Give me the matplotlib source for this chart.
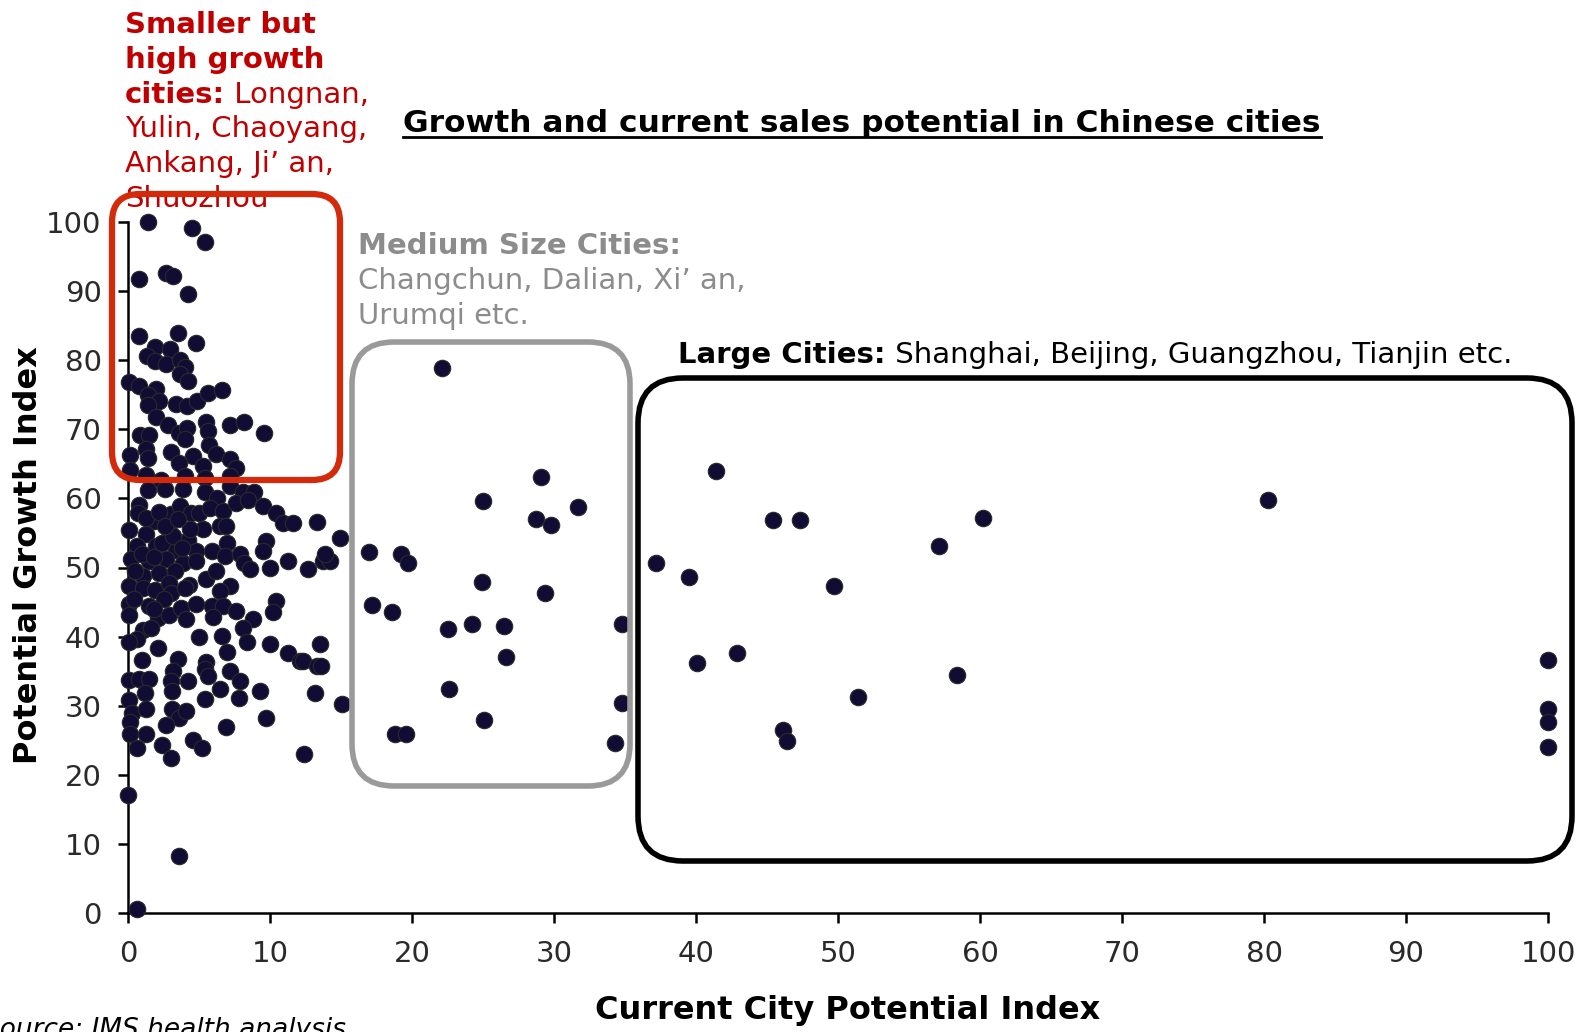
import numpy as np
import matplotlib.pyplot as plt
from matplotlib.patches import FancyBboxPatch

# Current City Potential Index (x) / Potential Growth Index (y)
city_potential = [
    1.4, 4.5, 5.4, 0.75, 2.65, 3.2, 4.2, 0.75, 3.5, 4.8, 1.9, 2.98, 1.34, 1.9, 2.65, 3.64, 4.0, 3.64, 4.2,
    0.07, 0.8, 1.95, 1.4, 2.2, 3.4, 4.15, 4.86, 5.6, 6.6, 1.4, 2.0, 2.8, 3.57, 4.15, 5.5, 5.6, 7.2, 8.2, 9.6,
    0.87, 1.5, 1.3, 3.0, 4.0, 4.6, 5.7, 6.2, 7.2, 7.6, 0.16, 0.16, 1.4, 3.57, 5.3, 1.3, 2.35, 4.0, 5.4, 7.2,
    1.4, 2.6, 3.9, 5.4, 6.3, 7.2, 8.1, 8.85, 0.8, 0.7, 1.8, 3.05, 3.64, 4.46, 5.0, 5.75, 6.7, 7.6, 8.45, 9.5,
    10.4, 10.9, 11.6, 13.3, 14.9, 0.07, 1.3, 2.9, 4.2, 5.3, 6.45, 6.9, 7.0, 9.7, 0.6, 2.0, 3.4, 4.8, 5.9, 6.8,
    7.9, 9.5, 0.2, 1.5, 2.7, 3.9, 4.8, 8.2, 8.6, 10.0, 11.3, 12.7, 13.7, 14.2, 13.85, 1.06, 2.2, 3.3, 4.3,
    5.5, 6.2, 7.2, 6.5, 0.1, 1.06, 1.9, 2.9, 3.0, 0.1, 0.1, 1.5, 2.1, 2.9, 3.75, 4.1, 4.8, 5.9, 6.7, 7.6,
    6.0, 8.8, 8.1, 10.4, 10.2, 1.06, 1.6, 0.6, 0.1, 2.1, 5.0, 6.6, 8.4, 10.0, 11.3, 12.1, 12.3, 13.5, 13.3,
    13.6, 13.2, 15.1, 1.0, 3.5, 3.2, 3.05, 3.1, 4.2, 5.5, 5.4, 5.6, 7.0, 7.2, 7.9, 6.5, 7.8, 9.3, 5.4,
    0.1, 0.8, 1.5, 0.1, 1.2, 0.3, 1.3, 3.1, 3.6, 4.06, 2.7, 0.16, 0.16, 1.3, 0.6, 2.4, 3.0, 4.6, 5.2, 6.9,
    9.7, 12.4, 0.0, 3.6, 0.66,
    1.0, 1.8, 2.4, 3.2, 3.8, 4.4, 1.3, 2.2, 2.6, 3.5, 4.0, 2.5, 1.8, 0.5, 0.4,
    22.1, 29.1, 25.0, 31.7, 28.7, 29.8, 17.0, 19.2, 19.7, 24.9, 29.4, 17.2, 18.6, 22.5, 24.2, 26.5, 34.8,
    26.6, 22.6, 34.8, 25.1, 18.8, 19.6, 34.3,
    41.4, 45.4, 47.3, 57.1, 60.2, 80.3, 37.2, 39.5, 49.7, 40.1, 42.9, 51.4, 58.4, 46.1, 46.4,
    100, 100, 100, 100,
]
growth_index = [
    100, 99.1, 97.0, 91.7, 92.6, 92.1, 89.6, 83.4, 83.9, 82.4, 81.9, 81.6, 80.6, 79.8, 79.4, 80.0, 79.0, 78.0, 77.0,
    76.8, 76.3, 75.8, 75.0, 74.0, 73.7, 73.3, 74.0, 75.2, 75.7, 73.5, 71.8, 70.6, 69.4, 70.1, 71.0, 69.7, 70.6, 71.1, 69.4,
    69.2, 69.2, 67.2, 66.7, 68.6, 66.1, 67.7, 66.4, 65.7, 64.4, 66.3, 64.1, 65.8, 65.1, 64.6, 63.4, 62.7, 63.2, 62.9, 63.2,
    61.2, 61.4, 61.3, 60.9, 60.1, 61.8, 60.9, 60.9, 59.1, 57.9, 56.7, 57.7, 58.9, 57.9, 57.9, 58.6, 58.1, 59.3, 59.7, 58.9,
    57.9, 56.5, 56.5, 56.6, 54.3, 55.4, 54.8, 55.3, 54.0, 55.5, 56.0, 56.0, 53.6, 53.8, 53.1, 53.1, 52.6, 52.4, 52.4, 51.6,
    52.0, 52.4, 51.2, 50.9, 51.2, 50.7, 50.9, 50.7, 49.8, 49.9, 50.9, 49.8, 50.9, 50.9, 51.9, 48.7, 49.2, 49.5, 47.5,
    48.3, 49.5, 47.3, 46.6, 47.3, 47.1, 46.8, 47.8, 46.3, 44.7, 43.2, 44.4, 42.7, 43.2, 44.2, 42.5, 44.7, 44.4, 44.4, 43.7,
    42.9, 42.6, 41.3, 45.1, 43.5, 41.0, 41.3, 39.6, 39.2, 38.4, 40.0, 40.1, 39.3, 39.0, 37.7, 36.5, 36.5, 39.0, 35.7,
    35.7, 31.9, 30.2, 36.7, 36.8, 35.0, 33.6, 32.1, 33.6, 36.3, 35.3, 34.3, 37.8, 35.0, 33.6, 32.5, 31.2, 32.1, 31.0,
    33.8, 33.9, 33.9, 30.9, 31.9, 29.0, 29.5, 29.6, 28.3, 29.2, 27.2, 27.6, 25.9, 26.0, 23.9, 24.3, 22.5, 25.0, 23.9, 26.9,
    28.2, 23.0, 17.1, 8.3, 0.7,
    52.0, 51.5, 53.5, 54.5, 52.8, 55.5, 57.2, 58.0, 56.0, 57.0, 47.0, 45.5, 44.0, 49.5, 45.5,
    78.9, 63.1, 59.6, 58.8, 57.0, 56.2, 52.2, 52.0, 50.7, 47.9, 46.3, 44.6, 43.6, 41.1, 41.8, 41.6, 41.9,
    37.0, 32.5, 30.4, 28.0, 26.0, 26.0, 24.7,
    64.0, 56.8, 56.9, 53.1, 57.2, 59.8, 50.7, 48.6, 47.3, 36.2, 37.7, 31.3, 34.4, 26.5, 24.9,
    36.7, 29.5, 27.7, 24.0,
]
ticks = list(range(0, 101, 10))

W, H = 1579, 1032
fig = plt.figure(figsize=(W / 100, H / 100), dpi=100)
inch = fig.dpi_scale_trans
FONT = "DejaVu Sans"

def P(x, y):
    # pixel position (from top-left) -> inches from bottom-left
    return x / 100, (H - y) / 100

ax = fig.add_axes([128 / W, (H - 913.4) / H, 1420 / W, 691.8 / H])
ax.scatter(city_potential, growth_index, s=140, c="#100c33", edgecolors="#2a2a2a",
           linewidths=0.8, zorder=3, clip_on=False)
ax.set_xlim(0, 100)
ax.set_ylim(0, 100)
ax.set_xticks(ticks)
ax.set_yticks(ticks)
for s in ["top", "right"]:
    ax.spines[s].set_visible(False)
for s in ["left", "bottom"]:
    ax.spines[s].set_linewidth(1.8)
ax.tick_params(direction="out", length=7, width=1.8, labelsize=21, pad=12, labelcolor="#2a2a2a")
for lab in ax.get_xticklabels() + ax.get_yticklabels():
    lab.set_family(FONT)

# axis labels
fig.text(*P(29, 555), "Potential Growth Index", rotation=90, ha="center", va="center",
         fontsize=23, fontweight="bold", family=FONT, transform=inch)
fig.text(*P(848, 1010), "Current City Potential Index", ha="center", va="center",
         fontsize=23, fontweight="bold", family=FONT, transform=inch)

# title with underline
r = fig.canvas.get_renderer()
t = fig.text(*P(403, 123), "Growth and current sales potential in Chinese cities", ha="left",
             va="center", fontsize=22.5, fontweight="bold", family=FONT, transform=inch)
bb = t.get_window_extent(r)
fig.add_artist(plt.Line2D([bb.x0 / 100, bb.x1 / 100], [(bb.y0 + 1) / 100] * 2,
                          transform=inch, color="black", lw=2))

# source
fig.text(-17 / W, 2 / H, "Source: IMS health analysis", ha="left", va="center",
         fontsize=19, fontstyle="italic", family=FONT)


def mixed(x, y, parts, color, size=21):
    xi, yi = P(x, y)
    for s, w in parts:
        t = fig.text(xi, yi, s, ha="left", va="center", fontsize=size, fontweight=w,
                     color=color, family=FONT, transform=inch)
        xi = t.get_window_extent(r).x1 / 100


red = "#c00000"
red_lines = [
    [("Smaller but", "bold")],
    [("high growth", "bold")],
    [("cities:", "bold"), (" Longnan,", "normal")],
    [("Yulin, Chaoyang,", "normal")],
    [("Ankang, Ji’ an,", "normal")],
    [("Shuozhou", "normal")],
]
for i, parts in enumerate(red_lines):
    mixed(125, 25 + i * 34.8, parts, red)

grey = "#8c8c8c"
mixed(358, 246, [("Medium Size Cities:", "bold")], grey)
mixed(358, 281, [("Changchun, Dalian, Xi’ an,", "normal")], grey)
mixed(358, 316, [("Urumqi etc.", "normal")], grey)

mixed(678, 355, [("Large Cities:", "bold"), (" Shanghai, Beijing, Guangzhou, Tianjin etc.", "normal")], "black")

# rounded boxes (pixel coords)
boxes = [
    (112, 194, 340, 480, "#d42a0c", 4.5, 0.28),
    (352, 342, 630, 786, "#9a9a9a", 4.0, 0.42),
    (638, 378, 1572, 861, "black", 4.0, 0.45),
]
for x0, y0, x1, y1, col, lw, rad in boxes:
    bx, by = P(x0, y1)
    fig.add_artist(FancyBboxPatch((bx, by), (x1 - x0) / 100, (y1 - y0) / 100,
                                  boxstyle=f"round,pad=0,rounding_size={rad}",
                                  transform=inch, fill=False, ec=col, lw=lw, zorder=5))

fig.savefig("out.png", dpi=100)
